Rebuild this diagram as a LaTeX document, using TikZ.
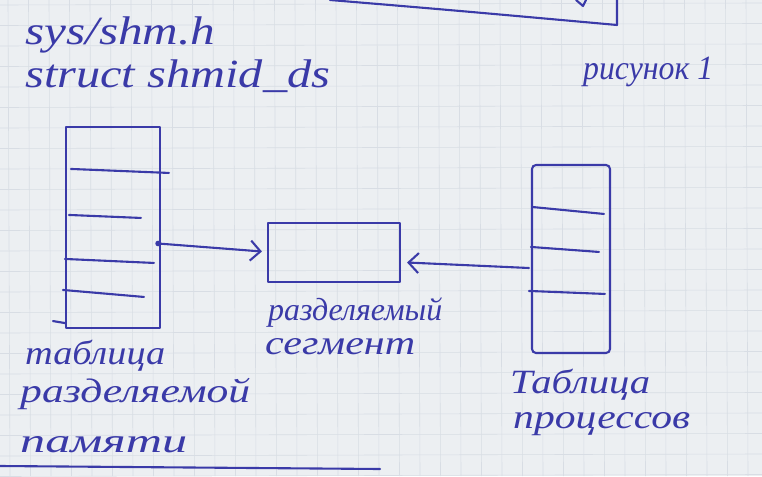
\documentclass[tikz,border=0pt]{standalone}
\usepackage{fontspec}
\setmainfont{Liberation Serif}
\usetikzlibrary{arrows.meta,calc}
\definecolor{ink}{RGB}{58,58,168}
\definecolor{paper}{RGB}{236,239,242}
\definecolor{gridc}{RGB}{216,221,228}
% text at a given size, stretched horizontally to a given width
\newcommand{\fitw}[3]{\resizebox{#1pt}{\height}{\fontsize{#2}{#2}\selectfont\itshape #3}}
\tikzset{
  pen/.style={ink, line width=2.1pt, line cap=round, line join=round},
  tbl/.style={pen, draw, rectangle, inner sep=0pt},
  lbl/.style={text=ink, anchor=base west, inner sep=0pt},
  arr/.style={pen, -{Straight Barb[length=10pt,width=20pt,line width=2.1pt]}}
}
\begin{document}
\begin{tikzpicture}[x=1pt,y=-1pt]
\useasboundingbox (0,0) rectangle (762,476);
\fill[paper] (0,0) rectangle (762,476);
\foreach \i in {0,...,37} \draw[gridc, line width=0.6pt] (\i*20.5+8,0) -- (\i*20.5+10,476);
\foreach \j in {0,...,23} \draw[gridc, line width=0.6pt] (0,\j*20.5+5) -- (762,\j*20.5+3);

% fragment at the top
\coordinate (t0) at (330,0);
\coordinate (t1) at (617,25);
\coordinate (t2) at (617,0);
\draw[pen] (t0) .. controls (450,10) .. (t1) -- (t2);
\draw[pen] (576,0) -- (583,6) -- (586,0);

% headings
\node[lbl] (h1) at (25,45) {\fitw{190}{40}{sys/shm.h}};
\node[lbl] (h2) at (25,88) {\fitw{305}{40}{struct shmid\_ds}};
\node[lbl] (fig) at (583,80) {\fitw{130}{34}{рисунок 1}};

% left table
\node[tbl, minimum width=94pt, minimum height=201pt] (lt) at (113,227.5) {};
\draw[pen] ($(lt.north west)+(6,43)$) -- ($(lt.north west)+(104,47)$);
\draw[pen] ($(lt.north west)+(4,89)$) -- ($(lt.north west)+(76,92)$);
\draw[pen] ($(lt.north west)+(0,133)$) -- ($(lt.north west)+(89,137)$);
\draw[pen] ($(lt.north west)+(-2,164)$) -- ($(lt.north west)+(79,171)$);
\draw[pen] ($(lt.south west)+(-12,-8)$) -- ($(lt.south west)+(0,-6)$);

% shared segment
\node[tbl, minimum width=132pt, minimum height=59pt] (seg) at (334,252.5) {};

% right table
\node[tbl, minimum width=78pt, minimum height=188pt, rounded corners=4pt] (rt) at (571,259) {};
\draw[pen] ($(rt.north west)+(1,43)$) -- ($(rt.north west)+(73,50)$);
\draw[pen] ($(rt.north west)+(0,83)$) -- ($(rt.north west)+(68,88)$);
\draw[pen] ($(rt.north west)+(-2,127)$) -- ($(rt.north west)+(74,130)$);

% connectors
\coordinate (d1) at ($(lt.east)+(-3,16)$);
\fill[ink] (d1) circle (2.8pt);
\draw[arr] (d1) -- ($(seg.west)+(-5,-1)$);
\coordinate (d2) at ($(rt.west)+(-2,9)$);
\draw[arr] (d2) -- ($(seg.east)+(6,10)$);

% labels
\node[lbl] (l1) at (268,320) {\fitw{174}{32}{разделяемый}};
\node[lbl] (l2) at (265,354) {\fitw{150}{34}{сегмент}};
\node[lbl] (l3) at (25,364) {\fitw{140}{34}{таблица}};
\node[lbl] (l4) at (20,402) {\fitw{230}{34}{разделяемой}};
\node[lbl] (l5) at (20,452) {\fitw{167}{34}{памяти}};
\node[lbl] (r1) at (510,393) {\fitw{140}{34}{Таблица}};
\node[lbl] (r2) at (513,428) {\fitw{177}{34}{процессов}};

% bottom line
\coordinate (b0) at (0,466);
\coordinate (b1) at (380,469);
\draw[pen] (b0) -- (b1);
\end{tikzpicture}
\end{document}
